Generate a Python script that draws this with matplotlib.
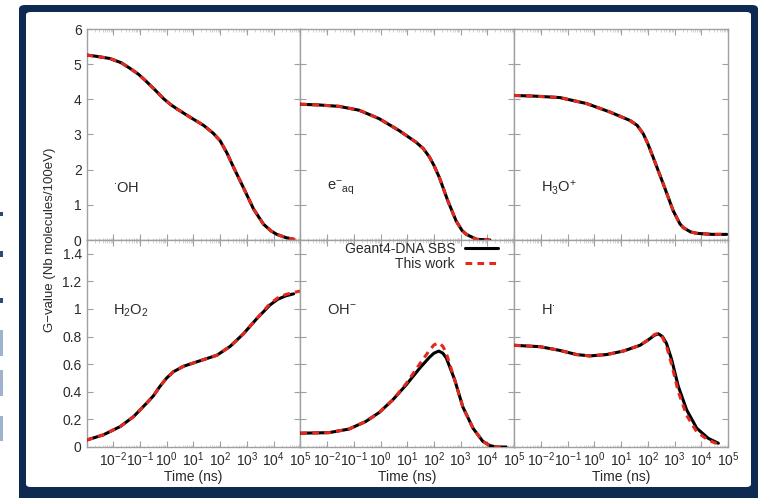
import numpy as np
import matplotlib
matplotlib.use("Agg")
import matplotlib.pyplot as plt
from matplotlib.patches import FancyBboxPatch, Rectangle
from matplotlib.ticker import FixedLocator, LogLocator, NullFormatter

plt.rcParams['font.family'] = ['Liberation Sans', 'DejaVu Sans']
plt.rcParams['mathtext.fontset'] = 'custom'
plt.rcParams['mathtext.rm'] = 'Liberation Sans'
plt.rcParams['mathtext.it'] = 'Liberation Sans:italic'
plt.rcParams['mathtext.default'] = 'regular'

# ---------------- data (log10 of time in ns, G-values) ----------------
oh_logt = [-3, -2.6, -2.12, -1.7, -1.37, -1.05, -0.75, -0.4, -0.12, 0.15, 0.38, 0.88, 1.38, 1.75, 2.0,
           2.25, 2.5, 2.87, 3.25, 3.62, 3.9, 4.12, 4.45, 4.75]
oh_ref = [5.26, 5.22, 5.16, 5.04, 4.88, 4.71, 4.50, 4.24, 4.02, 3.85, 3.73, 3.49, 3.26, 3.03, 2.82,
          2.48, 2.07, 1.49, 0.88, 0.45, 0.26, 0.16, 0.07, 0.02]
oh_work_logt = oh_logt + [5.0]
oh_work = oh_ref + [0.02]

eaq_logt = [-3, -2.3, -1.55, -0.8, -0.05, 0.7, 1.33, 1.6, 1.83, 2.0, 2.2, 2.52, 2.83, 3.05, 3.21, 3.59, 4.09]
eaq_ref = [3.86, 3.84, 3.80, 3.69, 3.45, 3.11, 2.78, 2.60, 2.36, 2.12, 1.78, 1.11, 0.54, 0.27, 0.16, 0.02, 0.0]
eaq_work = list(eaq_ref)

h3o_logt = [-3, -2.2, -1.29, -0.29, 0.58, 1.33, 1.6, 1.83, 2.0, 2.2, 2.58, 2.95, 3.2, 3.33, 3.6, 3.83, 4.4, 4.95]
h3o_ref = [4.11, 4.09, 4.05, 3.88, 3.64, 3.40, 3.26, 3.02, 2.74, 2.35, 1.59, 0.83, 0.46, 0.35, 0.23, 0.19, 0.16, 0.16]
h3o_work = list(h3o_ref)

h2o2_logt = [-3, -2.37, -1.74, -1.24, -0.74, -0.5, -0.25, 0.0, 0.25, 0.63, 1.25, 1.88, 2.38, 2.87, 3.37, 3.87,
             4.15, 4.45, 4.75]
h2o2_ref = [0.05, 0.088, 0.148, 0.22, 0.32, 0.37, 0.44, 0.50, 0.545, 0.585, 0.625, 0.665, 0.73, 0.82, 0.93,
            1.03, 1.07, 1.095, 1.11]
h2o2_work_logt = h2o2_logt + [5.0]
h2o2_work = [0.05, 0.088, 0.148, 0.22, 0.32, 0.37, 0.44, 0.50, 0.545, 0.585, 0.625, 0.665, 0.73, 0.82, 0.93,
             1.04, 1.08, 1.105, 1.12, 1.13]

ohm_logt = [-3, -1.93, -1.18, -0.55, -0.05, 0.45, 0.96, 1.46, 1.83, 2.0, 2.18, 2.33, 2.46, 2.77, 3.08, 3.46,
            3.83, 4.1, 4.33, 4.7]
ohm_ref = [0.10, 0.104, 0.13, 0.185, 0.25, 0.34, 0.45, 0.57, 0.65, 0.68, 0.695, 0.68, 0.645, 0.49, 0.29, 0.136,
           0.04, 0.01, 0.0, 0.0]
ohm_work = [0.10, 0.104, 0.13, 0.185, 0.25, 0.34, 0.46, 0.60, 0.70, 0.74, 0.755, 0.73, 0.68, 0.49, 0.29, 0.136,
            0.04, 0.01, 0.0, 0.0]

hr_logt = [-3, -2.04, -1.29, -0.67, -0.17, 0.46, 1.08, 1.71, 2.08, 2.25, 2.4, 2.55, 2.7, 2.89, 3.14, 3.45, 3.83,
           4.26, 4.64]
hr_ref = [0.737, 0.727, 0.70, 0.67, 0.66, 0.67, 0.695, 0.737, 0.785, 0.81, 0.82, 0.80, 0.75, 0.635, 0.44, 0.27,
          0.136, 0.063, 0.027]
hr_work = [0.737, 0.727, 0.70, 0.67, 0.66, 0.67, 0.695, 0.737, 0.785, 0.815, 0.825, 0.795, 0.73, 0.60, 0.40, 0.23,
           0.11, 0.05, 0.02]

species = [r"$^{\cdot}$OH", r"e$^{-}$$_{aq}$", r"H$_3$O$^{+}$",
           r"H$_2$O$_2$", r"OH$^{-}$", r"H$^{\cdot}$"]
xtick_exp = [-2, -1, 0, 1, 2, 3, 4, 5]
top_yticks = [0, 1, 2, 3, 4, 5, 6]
bot_yticks = [0, 0.2, 0.4, 0.6, 0.8, 1, 1.2, 1.4]
bot_yticklabels = ["0", "0.2", "0.4", "0.6", "0.8", "1", "1.2", "1.4"]
legend_labels = ["Geant4-DNA SBS", "This work"]

panels = [
    (oh_logt, oh_ref, oh_work_logt, oh_work),
    (eaq_logt, eaq_ref, eaq_logt, eaq_work),
    (h3o_logt, h3o_ref, h3o_logt, h3o_work),
    (h2o2_logt, h2o2_ref, h2o2_work_logt, h2o2_work),
    (ohm_logt, ohm_ref, ohm_logt, ohm_work),
    (hr_logt, hr_ref, hr_logt, hr_work),
]

# ---------------- figure ----------------
W, H = 760, 498
fig = plt.figure(figsize=(W / 100, H / 100), dpi=100)
navy = "#0f2a50"

# page frame
fig.patches.append(FancyBboxPatch((19 / W, -0.02), (758 - 19) / W, (H - 5) / H + 0.02,
                                  boxstyle="round,pad=0,rounding_size=0.008",
                                  transform=fig.transFigure, facecolor=navy,
                                  edgecolor="none", zorder=-10))
fig.patches.append(FancyBboxPatch((26 / W, 1 - 487 / H), (751 - 26) / W, (487 - 12) / H,
                                  boxstyle="round,pad=0,rounding_size=0.006",
                                  transform=fig.transFigure, facecolor="white",
                                  edgecolor="none", zorder=-9))
# cut-off fragments of page text at the far left
for y0, y1, c in [(212, 216, "#2a4a78"), (251, 257, "#2a4a78"), (298, 303, "#2a4a78"),
                  (330, 356, "#9fb3cc"), (370, 396, "#9fb3cc"), (416, 441, "#9fb3cc")]:
    fig.patches.append(Rectangle((0, 1 - y1 / H), 3 / W, (y1 - y0) / H,
                                 transform=fig.transFigure, facecolor=c,
                                 edgecolor="none", zorder=-9))

gs = fig.add_gridspec(2, 3, left=86.5 / W, right=728 / W, bottom=1 - 447 / H,
                      top=1 - 29 / H, hspace=0, wspace=0, height_ratios=[211, 207])

gray = "#a0a0a0"
txt = "#2a2a2a"
red = "#e5281d"
axes = []
for i in range(6):
    r, c = divmod(i, 3)
    ax = fig.add_subplot(gs[r, c])
    ax.set_zorder(1)
    axes.append(ax)
    lt, gref, ltw, gw = panels[i]
    ax.plot(10.0 ** np.array(lt), gref, color="black", lw=2.2, zorder=3,
            label=legend_labels[0], solid_capstyle="round", solid_joinstyle="round")
    ax.plot(10.0 ** np.array(ltw), gw, color=red, lw=2.2, zorder=4,
            dashes=(2.2, 1.7), label=legend_labels[1])
    ax.set_xscale("log")
    ax.set_xlim(1e-3, 1e5)
    for s in ax.spines.values():
        s.set_color(gray)
        s.set_linewidth(1.0)
    ax.xaxis.set_major_locator(FixedLocator([10.0 ** e for e in range(-3, 6)]))
    ax.xaxis.set_minor_locator(LogLocator(base=10, subs=np.arange(2, 10), numticks=20))
    ax.xaxis.set_minor_formatter(NullFormatter())
    ax.tick_params(which="both", direction="in", top=True, right=True, color=gray,
                   labelcolor=txt, labelsize=10)
    ax.tick_params(which="major", length=4, width=0.8)
    ax.tick_params(which="minor", length=1.8, width=0.5, color="#c0c0c0")
    if r == 0:
        ax.set_ylim(0, 6)
        ax.set_yticks(top_yticks)
        ax.set_xticklabels([])
        ax.text(0.124, 0.246, species[i], transform=ax.transAxes, fontsize=10.5,
                color=txt, va="center", ha="left")
    else:
        ax.set_ylim(0, 1.5)
        ax.set_yticks(bot_yticks)
        ax.set_xticks([10.0 ** e for e in range(-3, 6)])
        ax.set_xticklabels([""] + [r"10$^{%d}$" % e for e in xtick_exp])
        ax.set_xlabel("Time (ns)", fontsize=10, color=txt, labelpad=1)
        ax.tick_params(axis="x", pad=2.5)
        ax.text(0.124, 0.66, species[i], transform=ax.transAxes, fontsize=10.5,
                color=txt, va="center", ha="left")
    if c == 0:
        if r == 1:
            ax.set_yticklabels(bot_yticklabels)
    else:
        ax.set_yticklabels([])

axes[4].legend(loc="upper right", bbox_to_anchor=(0.925, 0.99), frameon=False,
               markerfirst=False, fontsize=10, handlelength=2.4, handletextpad=0.7,
               labelspacing=0.05, borderpad=0.0, borderaxespad=0.0, labelcolor=txt)

fig.text(50 / W, 1 - 240 / H, "G\u2212value (Nb molecules/100eV)", rotation=90,
         ha="center", va="center", fontsize=9.5, color=txt)

fig.savefig("out.png", dpi=100, facecolor="white")
